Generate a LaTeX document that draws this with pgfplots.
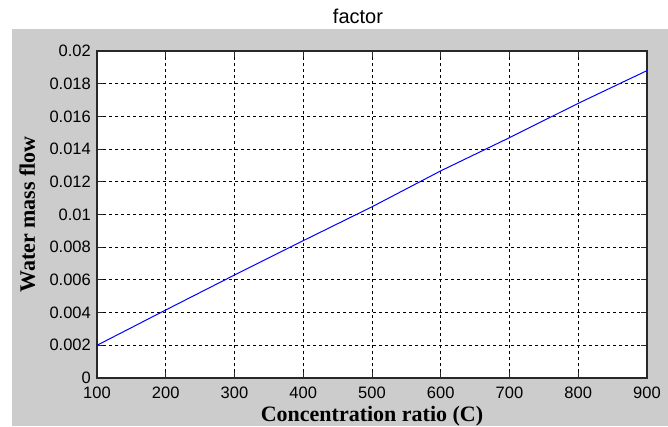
\documentclass[border=0pt]{standalone}
\usepackage{pgfplots}
\pgfplotsset{compat=1.18}
\usepackage{fontspec}
\setmainfont{Liberation Sans}
\newfontfamily\timesbold{Liberation Serif}[BoldFont={Liberation Serif Bold}]
\definecolor{figgray}{RGB}{204,204,204}
\definecolor{framegray}{RGB}{40,40,40}
\begin{document}
\begin{tikzpicture}
\path[use as bounding box] (-97pt,-48pt) rectangle (571pt,378pt);
\fill[figgray] (-85pt,-48pt) rectangle (571pt,349pt);
\node[anchor=base, font=\fontsize{20}{23}\selectfont] at (261pt,354pt) {factor};
\begin{axis}[
  at={(0pt,0pt)}, anchor=origin,
  width=550pt, height=327pt, scale only axis,
  xmin=100, xmax=900, ymin=0, ymax=0.02,
  xtick={100,200,...,900},
  ytick={0,0.002,0.004,0.006,0.008,0.01,0.012,0.014,0.016,0.018,0.02},
  scaled y ticks=false,
  yticklabel style={/pgf/number format/fixed, /pgf/number format/precision=3, anchor=east, inner sep=0pt, xshift=-6pt},
  xticklabel style={anchor=north, inner sep=0pt, yshift=-9pt},
  /pgf/number format/assume math mode=true,
  tick label style={font=\fontsize{16.5}{18}\selectfont, text=black},
  axis background/.style={fill=white},
  axis line style={framegray, line width=1.2pt},
  tick style={framegray, line width=1pt},
  tick align=inside, tick pos=both,
  major tick length=6pt,
  grid=major,
  major grid style={black, line width=0.9pt, dash pattern=on 3pt off 3pt},
  xlabel={\timesbold\bfseries Concentration ratio (C)},
  ylabel={\timesbold\bfseries Water mass flow},
  label style={font=\fontsize{22}{25}\selectfont},
  xlabel style={at={(axis description cs:0.5,0)}, anchor=base, yshift=-43pt},
  ylabel style={at={(axis description cs:0,0.5)}, anchor=base, rotate=0, yshift=62pt},
]
\addplot[color={rgb,255:red,0;green,0;blue,255}, line width=1pt] coordinates {
(100,0.0020) (200,0.00416) (300,0.0063) (400,0.0084) (500,0.01047)
(600,0.01267) (700,0.0147) (800,0.0168) (900,0.0188)
};
\end{axis}
\end{tikzpicture}
\end{document}
